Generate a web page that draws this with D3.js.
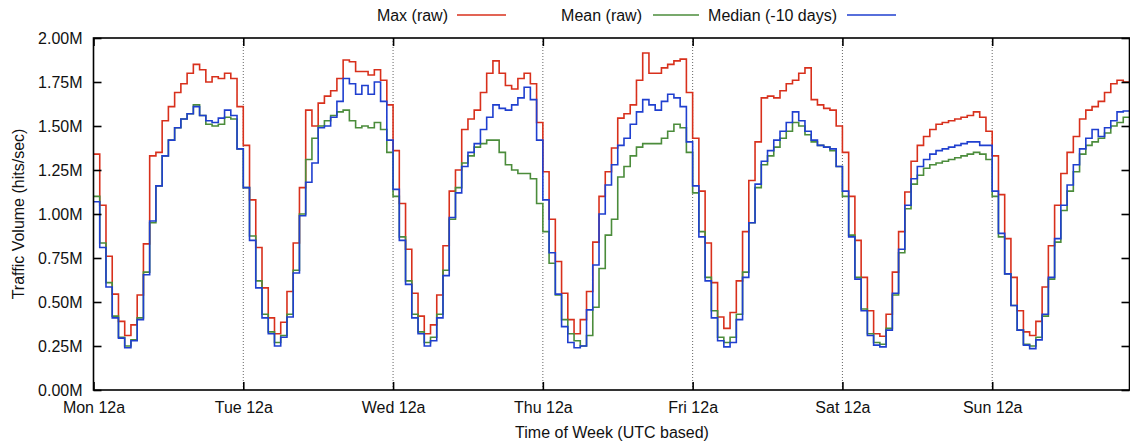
<!DOCTYPE html>
<html>
<head>
<meta charset="utf-8">
<script src="https://cdn.jsdelivr.net/npm/d3@7"></script>
<style>
  body { margin: 0; background: #fff; }
  svg { display: block; font-family: "Liberation Sans", Arial, sans-serif; }
</style>
</head>
<body>
<script>
// hourly values in millions of hits/sec, one row per day starting Mon 12a
var maxRaw = [
  1.34,1.05,0.76,0.545,0.39,0.31,0.37,0.54,0.83,1.33,1.35,1.53,1.61,1.69,1.74,1.80,1.85,1.82,1.75,1.78,1.77,1.80,1.77,1.61,
  1.39,1.08,0.81,0.58,0.41,0.32,0.385,0.56,0.835,1.15,1.59,1.50,1.63,1.67,1.70,1.77,1.875,1.865,1.81,1.81,1.79,1.82,1.76,1.62,
  1.36,1.06,0.80,0.55,0.42,0.32,0.37,0.54,0.82,1.13,1.25,1.48,1.54,1.59,1.69,1.80,1.87,1.80,1.73,1.71,1.77,1.80,1.74,1.52,
  1.24,0.97,0.73,0.55,0.40,0.32,0.40,0.56,0.84,1.10,1.24,1.375,1.545,1.57,1.62,1.76,1.915,1.80,1.80,1.83,1.85,1.87,1.88,1.69,
  1.43,1.13,0.835,0.61,0.415,0.35,0.44,0.62,0.90,1.19,1.41,1.66,1.67,1.66,1.70,1.74,1.76,1.80,1.83,1.65,1.62,1.60,1.59,1.50,
  1.35,1.10,0.85,0.64,0.45,0.32,0.305,0.43,0.67,0.90,1.125,1.30,1.39,1.44,1.48,1.51,1.52,1.53,1.54,1.55,1.56,1.58,1.55,1.47,
  1.33,1.11,0.86,0.64,0.45,0.33,0.31,0.39,0.585,0.82,1.05,1.23,1.35,1.44,1.54,1.59,1.61,1.64,1.69,1.74,1.76,1.75
];
var meanRaw = [
  1.10,0.835,0.61,0.42,0.30,0.25,0.285,0.41,0.67,0.95,1.16,1.33,1.42,1.49,1.54,1.57,1.62,1.56,1.51,1.50,1.51,1.55,1.54,1.37,
  1.15,0.875,0.62,0.43,0.33,0.27,0.31,0.43,0.68,1.00,1.31,1.43,1.50,1.53,1.56,1.58,1.59,1.53,1.49,1.50,1.49,1.52,1.48,1.35,
  1.10,0.87,0.62,0.43,0.33,0.27,0.30,0.43,0.68,0.97,1.15,1.29,1.33,1.38,1.40,1.42,1.42,1.35,1.28,1.25,1.23,1.23,1.20,1.06,
  0.90,0.72,0.54,0.40,0.32,0.28,0.25,0.31,0.47,0.69,0.88,0.97,1.21,1.27,1.33,1.38,1.40,1.40,1.40,1.43,1.47,1.51,1.49,1.35,
  1.12,0.90,0.64,0.45,0.30,0.27,0.30,0.43,0.67,0.95,1.15,1.28,1.33,1.38,1.43,1.47,1.52,1.50,1.45,1.41,1.39,1.38,1.36,1.27,
  1.10,0.88,0.64,0.46,0.32,0.27,0.26,0.35,0.54,0.78,1.03,1.17,1.22,1.26,1.28,1.29,1.30,1.31,1.32,1.33,1.34,1.35,1.34,1.31,
  1.10,0.87,0.66,0.48,0.34,0.26,0.25,0.30,0.42,0.63,0.84,1.02,1.13,1.24,1.34,1.39,1.41,1.43,1.46,1.50,1.52,1.55
];
var median10 = [
  1.07,0.81,0.585,0.41,0.295,0.24,0.28,0.40,0.655,0.96,1.16,1.33,1.42,1.49,1.54,1.57,1.61,1.56,1.53,1.52,1.545,1.59,1.56,1.37,
  1.15,0.85,0.58,0.41,0.32,0.25,0.30,0.415,0.665,0.99,1.18,1.29,1.49,1.50,1.55,1.64,1.77,1.74,1.68,1.73,1.68,1.75,1.64,1.42,
  1.14,0.85,0.60,0.41,0.32,0.25,0.28,0.41,0.65,0.98,1.12,1.27,1.35,1.40,1.48,1.55,1.62,1.60,1.59,1.62,1.66,1.72,1.65,1.42,
  1.08,0.78,0.545,0.36,0.27,0.24,0.25,0.455,0.71,1.00,1.165,1.28,1.39,1.43,1.51,1.58,1.65,1.62,1.59,1.64,1.68,1.66,1.61,1.41,
  1.16,0.87,0.62,0.41,0.28,0.245,0.27,0.40,0.64,0.95,1.17,1.30,1.36,1.42,1.47,1.52,1.58,1.53,1.47,1.42,1.39,1.38,1.37,1.27,
  1.13,0.87,0.63,0.45,0.31,0.255,0.245,0.34,0.55,0.80,1.05,1.20,1.27,1.31,1.34,1.36,1.37,1.38,1.39,1.40,1.41,1.41,1.39,1.39,
  1.13,0.89,0.66,0.48,0.34,0.255,0.235,0.285,0.43,0.64,0.86,1.05,1.165,1.28,1.37,1.43,1.48,1.44,1.49,1.53,1.58,1.585
];
var dayLabels = ["Mon 12a","Tue 12a","Wed 12a","Thu 12a","Fri 12a","Sat 12a","Sun 12a"];
var yTicks = [0, 0.25, 0.5, 0.75, 1.0, 1.25, 1.5, 1.75, 2.0];
var seriesNames = ["Max (raw)", "Mean (raw)", "Median (-10 days)"];
var seriesColors = ["#d8301c", "#4b8c3b", "#1f3fcf"];

function draw() {
    var w = 1130, h = 444;
    var mLeft = 93.5, mRight = 1129.5, mTop = 38, mBottom = 390;
    var hours = maxRaw.length;

    var svg = d3.select("body").append("svg")
        .attr("width", w)
        .attr("height", h);

    var x = d3.scaleLinear().domain([0, hours]).range([mLeft, mRight]);
    var y = d3.scaleLinear().domain([0, 2]).range([mBottom, mTop]);

    // dotted day separators
    svg.append("g").selectAll("line")
        .data(d3.range(1, dayLabels.length))
        .enter().append("line")
        .attr("x1", function(d) { return x(d * 24); })
        .attr("x2", function(d) { return x(d * 24); })
        .attr("y1", mTop).attr("y2", mBottom)
        .attr("stroke", "#666")
        .attr("stroke-width", 1)
        .attr("stroke-dasharray", "1,2");

    var line = d3.line()
        .x(function(d, i) { return x(i); })
        .y(function(d) { return y(d); })
        .curve(d3.curveStepAfter);

    var allSeries = [maxRaw, meanRaw, median10];
    allSeries.forEach(function(s, k) {
        var pts = s.concat([s[s.length - 1]]);
        svg.append("path")
            .attr("d", line(pts))
            .attr("fill", "none")
            .attr("stroke", seriesColors[k])
            .attr("stroke-width", 1.6);
    });

    var fmt = function(d) { return d.toFixed(2) + "M"; };

    var gl = svg.append("g").attr("transform", "translate(" + mLeft + ",0)")
        .call(d3.axisLeft(y).tickValues(yTicks).tickSize(-8).tickPadding(11).tickFormat(fmt));
    var gr = svg.append("g").attr("transform", "translate(" + mRight + ",0)")
        .call(d3.axisRight(y).tickValues(yTicks).tickSize(-8).tickFormat(""));
    var gb = svg.append("g").attr("transform", "translate(0," + mBottom + ")")
        .call(d3.axisBottom(x).tickValues(d3.range(0, 168, 24)).tickSize(-8).tickPadding(7)
            .tickFormat(function(d) { return dayLabels[d / 24]; }));
    var gt = svg.append("g").attr("transform", "translate(0," + mTop + ")")
        .call(d3.axisTop(x).tickValues(d3.range(0, 168, 24)).tickSize(-8).tickFormat(""));

    [gl, gr, gb, gt].forEach(function(g) {
        g.select(".domain").remove();
        g.selectAll(".tick line").attr("stroke", "#000").attr("stroke-width", 1.6);
        g.selectAll("text").attr("font-size", 16).attr("fill", "#111")
            .attr("font-family", "Liberation Sans, Arial, sans-serif");
    });
    gb.selectAll("text").attr("dy", "1em");

    svg.append("rect")
        .attr("x", mLeft).attr("y", mTop)
        .attr("width", mRight - mLeft).attr("height", mBottom - mTop)
        .attr("fill", "none")
        .attr("stroke", "#000")
        .attr("stroke-width", 1.6);

    // axis titles
    svg.append("text")
        .attr("x", 612).attr("y", 438)
        .attr("text-anchor", "middle")
        .attr("font-size", 16).attr("fill", "#111")
        .text("Time of Week (UTC based)");
    svg.append("text")
        .attr("transform", "translate(24," + ((mTop + mBottom) / 2) + ") rotate(-90)")
        .attr("text-anchor", "middle")
        .attr("font-size", 16).attr("fill", "#111")
        .text("Traffic Volume (hits/sec)");

    // legend
    var legendTextEnd = [448, 642, 837];
    var legendLine = [[457, 506], [653, 699], [847, 896]];
    seriesNames.forEach(function(n, k) {
        svg.append("text")
            .attr("x", legendTextEnd[k]).attr("y", 21)
            .attr("text-anchor", "end")
            .attr("font-size", 16).attr("fill", "#111")
            .text(n);
        svg.append("line")
            .attr("x1", legendLine[k][0]).attr("x2", legendLine[k][1])
            .attr("y1", 15).attr("y2", 15)
            .attr("stroke", seriesColors[k])
            .attr("stroke-width", 1.6);
    });
}

draw();
</script>
</body>
</html>
